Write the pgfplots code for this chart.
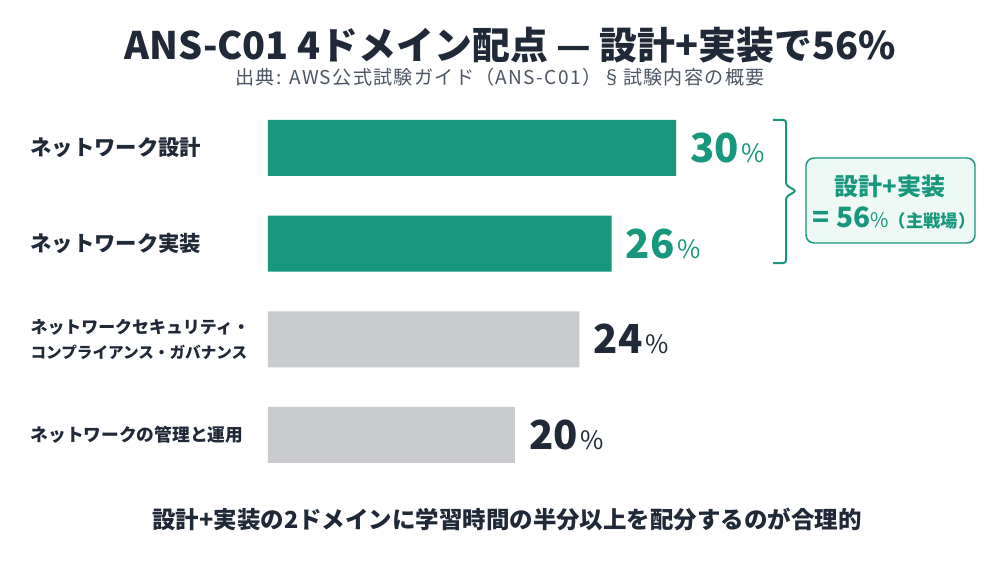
\documentclass[border=0pt]{standalone}
\usepackage{fontspec}
\setmainfont{Noto Sans CJK JP}
\usepackage{pgfplots}
\pgfplotsset{compat=1.18}

\definecolor{tealc}{HTML}{17977D}
\definecolor{grayc}{HTML}{C9CBCE}
\definecolor{ink}{HTML}{1F2937}
\definecolor{subc}{HTML}{4B5563}
\definecolor{mint}{HTML}{EEF8F5}

\begin{document}
\begin{tikzpicture}[x=0.75pt,y=-0.75pt]
\useasboundingbox[fill=white] (0,0) rectangle (1000,563);

% title and source
\node[font=\fontsize{28.4}{28.4}\selectfont\bfseries, text=ink] at (510,45)
  {ANS-C01 4ドメイン配点 — 設計+実装で56\%};
\node[font=\fontsize{14.3}{14.3}\selectfont\addfontfeatures{LetterSpace=7}, text=subc] at (500,77)
  {出典: AWS公式試験ガイド（ANS-C01）§試験内容の概要};

\coordinate (A) at (268,482.8);
\begin{axis}[
  at={(A)}, anchor=south west,
  scale only axis, width=306pt, height=287pt,
  xbar, bar width=42pt,
  xmin=4.66, xmax=30, ymin=-0.5, ymax=3.5,
  axis line style={draw=none}, tick style={draw=none},
  /pgf/number format/assume math mode=true,
  xtick=\empty,
  ytick={0,1,2,3},
  yticklabels={
    {\fontsize{13.3}{16}\selectfont ネットワークの管理と運用},
    {\fontsize{12.7}{16}\selectfont ネットワークセキュリティ・\\[7pt]\fontsize{11.7}{16}\selectfont コンプライアンス・ガバナンス},
    {\fontsize{16}{16}\selectfont ネットワーク実装},
    {\fontsize{16}{16}\selectfont ネットワーク設計}},
  yticklabel style={anchor=west, xshift=-174pt, align=left, inner sep=0pt,
    text=ink, font=\bfseries},
  nodes near coords={\pgfmathprintnumber{\pgfplotspointmeta}\hspace{2pt}{\mdseries\fontsize{19}{19}\selectfont\%}},
  every node near coord/.append style={anchor=west, xshift=10.5pt, inner sep=0pt,
    font=\fontsize{30}{30}\selectfont\bfseries},
]
\addplot[fill=tealc, draw=none, bar shift=0pt,
  every node near coord/.append style={text=tealc}]
  coordinates {(30,3) (26,2)};
\addplot[fill=grayc, draw=none, bar shift=0pt,
  every node near coord/.append style={text=ink}]
  coordinates {(24,1) (20,0)};
\end{axis}

% bracket and callout
\draw[tealc, line width=1.5pt, rounded corners=2pt]
  (773,120) -- (786,120) -- (786,185) -- (796,191) -- (786,197) -- (786,263) -- (773,263);
\node[draw=tealc, line width=1.1pt, fill=mint, rounded corners=6pt,
  minimum width=126.75pt, minimum height=63.75pt] at (890.5,200.5) {};
\node[font=\fontsize{18}{18}\selectfont\bfseries, text=tealc] at (890,186) {設計+実装};
\node[font=\bfseries, text=tealc] at (894,218)
  {{\fontsize{21}{21}\selectfont = 56}{\mdseries\fontsize{15}{15}\selectfont\%}{\fontsize{13}{13}\selectfont（主戦場）}};

% takeaway
\node[font=\fontsize{17.6}{17.6}\selectfont\bfseries, text=ink] at (507,519)
  {設計+実装の2ドメインに学習時間の半分以上を配分するのが合理的};
\end{tikzpicture}
\end{document}
